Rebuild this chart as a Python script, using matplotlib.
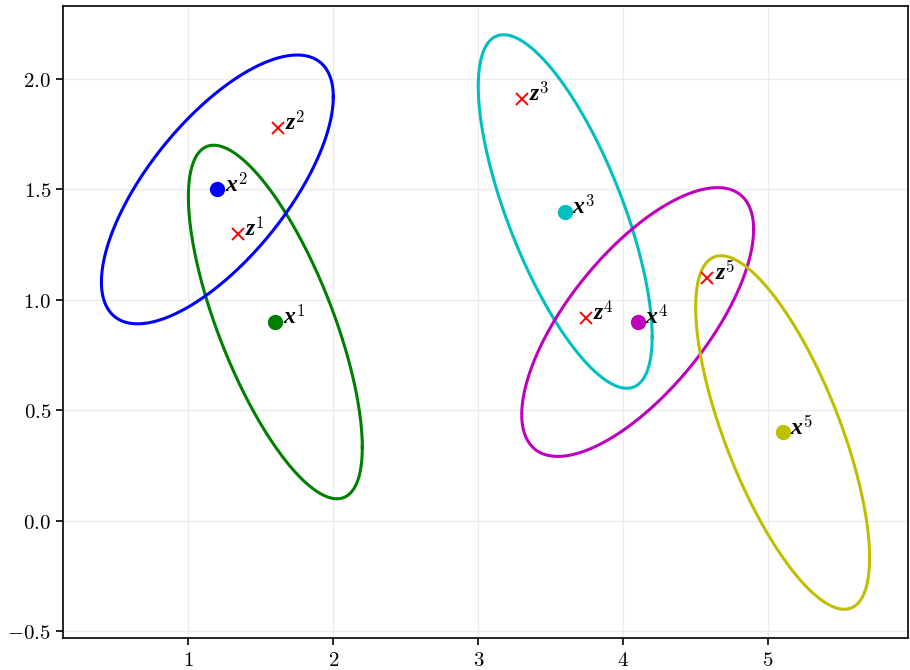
import numpy as np
import matplotlib
matplotlib.use("Agg")
import matplotlib.pyplot as plt
from matplotlib.ticker import FuncFormatter

plt.rcParams['mathtext.fontset'] = 'cm'
plt.rcParams['mathtext.rm'] = 'cmr10'
plt.rcParams['mathtext.it'] = 'Liberation Serif:bold:italic'
plt.rcParams['axes.unicode_minus'] = True

# data
x_centers = [(1.6, 0.9), (1.2, 1.5), (3.6, 1.4), (4.1, 0.9), (5.1, 0.4)]
z_points = [(1.34, 1.30), (1.62, 1.78), (3.30, 1.91), (3.74, 0.92), (4.58, 1.10)]
cov_xx = [0.36, 0.64, 0.36, 0.64, 0.36]
cov_xy = [-0.34, 0.335, -0.34, 0.335, -0.34]
cov_yy = [0.64, 0.37, 0.64, 0.37, 0.64]
colors = ['g', 'b', 'c', 'm', 'y']
labels_x = [r'$x^{%d}$' % (i + 1) for i in range(5)]
labels_z = [r'$z^{%d}$' % (i + 1) for i in range(5)]

fig = plt.figure(figsize=(9.1, 6.7), dpi=100)
ax = fig.add_axes([63 / 910, 32 / 670, 845 / 910, 632 / 670])

t = np.linspace(0, 2 * np.pi, 400)
for k in range(5):
    S = np.array([[cov_xx[k], cov_xy[k]], [cov_xy[k], cov_yy[k]]])
    L = np.linalg.cholesky(S)
    pts = L @ np.vstack([np.cos(t), np.sin(t)])
    cx, cy = x_centers[k]
    ax.plot(cx + pts[0], cy + pts[1], color=colors[k], lw=2.2, zorder=2)

for k in range(5):
    cx, cy = x_centers[k]
    ax.plot(cx, cy, 'o', color=colors[k], ms=10, zorder=3)
    ax.text(cx + 0.05, cy - 0.01, labels_x[k], fontsize=17, va='baseline', ha='left',
            math_fontfamily='custom', zorder=4)
    zx, zy = z_points[k]
    ax.plot(zx, zy, 'x', color='r', ms=9, mew=1.4, zorder=3)
    ax.text(zx + 0.05, zy - 0.01, labels_z[k], fontsize=17, va='baseline', ha='left',
            math_fontfamily='custom', zorder=4)

ax.grid(True, color='#ebebeb', lw=1)
ax.set_axisbelow(True)
ax.set_xticks([1, 2, 3, 4, 5])
ax.set_yticks([-0.5, 0.0, 0.5, 1.0, 1.5, 2.0])
ax.xaxis.set_major_formatter(FuncFormatter(lambda v, p: r'$%d$' % round(v)))
ax.yaxis.set_major_formatter(FuncFormatter(lambda v, p: r'$%.1f$' % v))
ax.tick_params(labelsize=15, direction='out', length=5, width=1.2)
for s in ax.spines.values():
    s.set_linewidth(1.2)

fig.savefig('out.png', dpi=100)
